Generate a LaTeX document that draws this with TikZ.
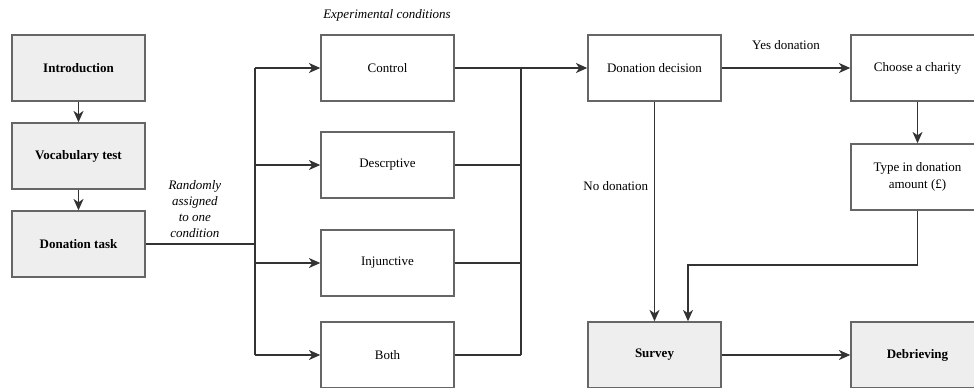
\documentclass[tikz,border=0pt]{standalone}
\usepackage{fontspec}
\setmainfont{Liberation Serif}
\usetikzlibrary{arrows.meta,positioning}
\definecolor{boxline}{HTML}{666666}
\definecolor{boxfill}{HTML}{EEEEEE}
\definecolor{wire}{HTML}{333333}

\begin{document}
\begin{tikzpicture}[x=0.75pt,y=-0.75pt,
    stage/.style={draw=boxline, line width=1.1pt, minimum width=99.75pt, minimum height=49.5pt,
        inner sep=2pt, align=center, font=\fontsize{9.75}{12.5}\selectfont},
    keystage/.style={stage, fill=boxfill, font=\fontsize{9.75}{12.5}\selectfont\bfseries},
    link/.style={draw=wire, line width=1pt},
    flow/.style={link, -{Stealth[length=8.5pt,width=7.5pt,inset=2.5pt]}},
    note/.style={font=\fontsize{9.75}{12}\selectfont, align=center}]

    \useasboundingbox (0,0) rectangle (974,387);
    \clip (0,0) rectangle (974,387);

    % Procedure
    \node[keystage] (intro) at (78.5,68) {Introduction};
    \node[keystage] (vocab) at (78.5,156) {Vocabulary test};
    \node[keystage] (task) at (78.5,244) {Donation task};
    \draw[flow] (intro) -- (vocab);
    \draw[flow] (vocab) -- (task);

    % Conditions
    \foreach \name/\y/\txt in {control/68/Control, descr/165/Descrptive, injunc/263/Injunctive, both/355/Both} {
        \node[stage] (\name) at (387.5,\y) {\txt};
    }
    \node[note, font=\fontsize{9.75}{12}\selectfont\itshape] (condlabel) at (387,15) {Experimental conditions};

    % Split to the four conditions
    \coordinate (split) at (255,244);
    \draw[link] (task.east) -- node[note, font=\fontsize{9.75}{12}\selectfont\itshape, pos=0.45, above=1pt]
        {Randomly\\assigned\\to one\\condition} (split);
    \draw[link] (control.west -| split) -- (both.west -| split);
    \foreach \name in {control,descr,injunc,both} {
        \draw[flow] (\name.west -| split) -- (\name.west);
    }

    % Merge to the decision
    \coordinate (merge) at (521,68);
    \foreach \name in {descr,injunc,both} {
        \draw[link] (\name.east) -- (\name.east -| merge);
    }
    \draw[link] (merge) -- (both.east -| merge);

    % Donation outcome
    \node[stage] (decision) at (654.5,68) {Donation decision};
    \node[stage] (charity) at (917.5,68) {Choose a charity};
    \node[stage] (amount) at (917.5,177) {Type in donation\\amount (£)};
    \node[keystage] (survey) at (654.5,355) {Survey};
    \node[keystage] (debrief) at (917.5,355) {Debrieving};

    \draw[flow] (control.east) -- (decision.west);
    \draw[flow] (decision) -- node[note, yshift=17pt] {Yes donation} (charity);
    \draw[flow] (charity) -- (amount);
    \draw[flow] (decision) -- node[note, pos=0.385, left=1pt] {No donation} (survey);
    \coordinate (bend) at (688,265);
    \draw[flow] (amount.south) |- (bend) -- (bend |- survey.north);
    \draw[flow] (survey) -- (debrief);
\end{tikzpicture}
\end{document}
